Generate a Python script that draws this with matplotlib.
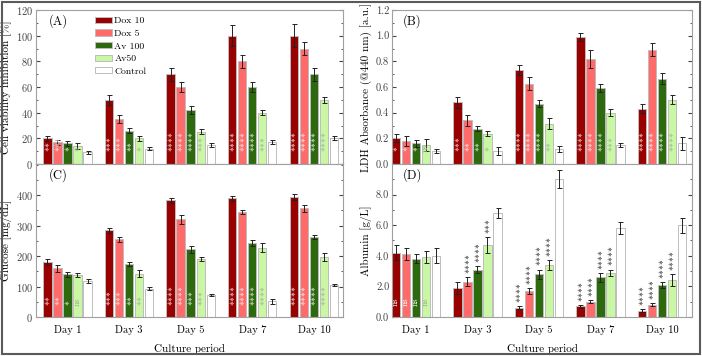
import numpy as np
import matplotlib
matplotlib.use('Agg')
import matplotlib.pyplot as plt
from matplotlib.patches import Rectangle
from matplotlib.ticker import AutoMinorLocator, FormatStrFormatter

plt.rcParams['font.family'] = ['cmr10', 'DejaVu Serif']
plt.rcParams['axes.formatter.use_mathtext'] = True
plt.rcParams['mathtext.fontset'] = 'cm'
plt.rcParams['axes.unicode_minus'] = False

days = ['Day 1', 'Day 3', 'Day 5', 'Day 7', 'Day 10']
groups = ['Dox 10', 'Dox 5', 'Av 100', 'Av50', 'Control']
colors = ['#990000', '#ff6b6b', '#2d6a0e', '#c9f7a4', '#ffffff']
star_colors = ['white', 'white', 'white', '#9aa894', '#999999']

# (A) cell viability inhibition [%], one row per group, one column per day
viab = [[20, 50, 70, 100, 100],
        [17, 35, 60, 80, 90],
        [16, 26, 42, 60, 70],
        [14, 20, 25, 40, 50],
        [9, 12, 15, 17, 20]]
viab_err = [[2, 4, 5, 8, 9],
            [2, 3, 4, 5, 5],
            [2, 2, 3, 4, 5],
            [2, 2, 2, 2, 2.5],
            [1.5, 1, 1.5, 1.5, 1.5]]
viab_sig = [['**', '***', '****', '****', '****'],
            ['***', '***', '****', '****', '****'],
            ['*', '**', '****', '****', '****'],
            ['*', '*', '***', '***', '****']]

# (B) LDH absorbance
ldh = [[0.20, 0.48, 0.73, 0.99, 0.43],
       [0.18, 0.34, 0.625, 0.815, 0.89],
       [0.16, 0.275, 0.47, 0.59, 0.665],
       [0.15, 0.235, 0.315, 0.40, 0.50],
       [0.10, 0.10, 0.115, 0.15, 0.16]]
ldh_err = [[0.03, 0.045, 0.04, 0.03, 0.035],
           [0.04, 0.04, 0.05, 0.07, 0.05],
           [0.025, 0.02, 0.025, 0.03, 0.045],
           [0.045, 0.02, 0.04, 0.025, 0.035],
           [0.015, 0.03, 0.025, 0.015, 0.05]]
ldh_sig = [['*', '***', '****', '****', '****'],
           ['*', '**', '****', '****', '****'],
           ['*', '**', '****', '****', '****'],
           ['ns', '*', '**', '***', '****']]

# (C) glucose [mg/dL]
gluc = [[180, 285, 383, 390, 393],
        [160, 255, 320, 345, 357],
        [140, 175, 222, 243, 263],
        [138, 142, 190, 227, 197],
        [118, 93, 72, 52, 105]]
gluc_err = [[10, 8, 8, 8, 10],
            [12, 8, 15, 7, 12],
            [8, 7, 12, 10, 7],
            [6, 12, 7, 15, 12],
            [6, 5, 3, 8, 3]]
gluc_sig = [['**', '***', '****', '****', '****'],
            ['**', '***', '****', '****', '****'],
            ['*', '**', '***', '****', '****'],
            ['ns', '**', '***', '****', '****']]

# (D) albumin [g/L]
alb = [[4.2, 1.9, 0.6, 0.7, 0.4],
       [4.1, 2.3, 1.7, 1.0, 0.8],
       [3.8, 3.1, 2.8, 2.6, 2.1],
       [3.9, 4.7, 3.4, 2.9, 2.4],
       [4.0, 6.8, 9.0, 5.8, 6.0]]
alb_err = [[0.5, 0.4, 0.1, 0.1, 0.1],
           [0.4, 0.3, 0.2, 0.1, 0.1],
           [0.3, 0.2, 0.3, 0.3, 0.2],
           [0.4, 0.5, 0.3, 0.2, 0.4],
           [0.5, 0.3, 0.6, 0.4, 0.5]]
alb_sig = [['ns', '', '****', '****', '****'],
           ['ns', '****', '****', '****', '****'],
           ['ns', '****', '****', '****', '****'],
           ['ns', '***', '****', '****', '****']]

STEP = 0.163
WIDTH = 0.135


def sig_label(txt):
    # braces keep mathtext from padding the stars like binary operators
    if txt == 'ns':
        return txt
    return '$' + r'{\ast}' * len(txt) + '$'


def style_axis(ax, xlim, ylim, yticks, fmt=None):
    ax.set_xlim(*xlim)
    ax.set_ylim(*ylim)
    ax.set_yticks(yticks)
    if fmt:
        ax.yaxis.set_major_formatter(FormatStrFormatter(fmt))
    ax.yaxis.set_minor_locator(AutoMinorLocator(2))
    ax.tick_params(axis='y', which='both', direction='in', right=True,
                   labelsize=7.5, colors='#444444', pad=2)
    ax.tick_params(axis='y', which='major', length=3)
    ax.tick_params(axis='y', which='minor', length=1.5)
    ax.tick_params(axis='x', length=0, labelsize=7.5, pad=6)
    for s in ax.spines.values():
        s.set_color('#a0a0a0')
        s.set_linewidth(0.8)
    ax.set_xticks(np.arange(len(days)))
    ax.set_xticklabels(days)


def draw_bars(ax, means, errs, sigs, stars_above=False, ymax=1.0):
    x = np.arange(len(days))
    handles = []
    for i, (m, e) in enumerate(zip(means, errs)):
        pos = x + (i - 2) * STEP
        b = ax.bar(pos, m, WIDTH, color=colors[i], edgecolor='#bdbdbd',
                   linewidth=0.7, label=groups[i], zorder=2)
        handles.append(b)
        ax.errorbar(pos, m, yerr=e, fmt='none', ecolor='#222222',
                    elinewidth=0.7, capsize=1.8, capthick=0.7, zorder=3)
        if i >= len(sigs):
            continue
        for j, txt in enumerate(sigs[i]):
            if not txt:
                continue
            if stars_above and txt != 'ns':
                ax.text(pos[j], m[j] + e[j] + 0.02 * ymax, sig_label(txt),
                        rotation=90, ha='center', va='bottom', fontsize=7,
                        color='#111111', zorder=4)
            else:
                ax.text(pos[j], 0.075 * ymax, sig_label(txt), rotation=90,
                        ha='center', va='bottom', fontsize=7 if txt != 'ns' else 6.5,
                        color=star_colors[i], zorder=4)
    return handles


fig = plt.figure(figsize=(7.02, 3.56), dpi=100)

ax_a = fig.add_axes([0.0513, 0.5393, 0.437, 0.4326])
ax_c = fig.add_axes([0.0513, 0.1096, 0.437, 0.4298])
ax_b = fig.add_axes([0.5584, 0.5393, 0.4274, 0.4326])
ax_d = fig.add_axes([0.5584, 0.1096, 0.4274, 0.4298])

left_lim = (-0.51, 4.47)
right_lim = (-0.39, 4.49)

handles = draw_bars(ax_a, viab, viab_err, viab_sig, ymax=120)
style_axis(ax_a, left_lim, (0, 120), np.arange(0, 121, 20))
ax_a.set_xticklabels([])
ax_a.set_ylabel('Cell viability inhibition [%]', fontsize=8, labelpad=3)
ax_a.text(0.04, 0.93, '(A)', transform=ax_a.transAxes, fontsize=9, va='center')
ax_a.legend(handles=handles, loc='upper left', bbox_to_anchor=(0.17, 1.0),
            frameon=False, fontsize=7, handlelength=1.75, handleheight=0.6,
            labelspacing=0.42, handletextpad=0.25, borderaxespad=0.3)

draw_bars(ax_c, gluc, gluc_err, gluc_sig, ymax=500)
style_axis(ax_c, left_lim, (0, 502), np.arange(0, 401, 100))
ax_c.set_ylabel('Glucose [mg/dL]', fontsize=8, labelpad=3)
ax_c.set_xlabel('Culture period', fontsize=8, labelpad=6)
ax_c.text(0.04, 0.93, '(C)', transform=ax_c.transAxes, fontsize=9, va='center')

draw_bars(ax_b, ldh, ldh_err, ldh_sig, ymax=1.2)
style_axis(ax_b, right_lim, (0, 1.2), np.arange(0, 1.21, 0.2), '%.1f')
ax_b.set_xticklabels([])
ax_b.set_ylabel('LDH Absorbance (@440 nm) [a.u.]', fontsize=8, labelpad=3)
ax_b.text(0.035, 0.93, '(B)', transform=ax_b.transAxes, fontsize=9, va='center')

draw_bars(ax_d, alb, alb_err, alb_sig, stars_above=True, ymax=10)
style_axis(ax_d, right_lim, (0, 10), np.arange(0, 8.1, 2), '%.1f')
ax_d.set_ylabel('Albumin [g/L]', fontsize=8, labelpad=3)
ax_d.set_xlabel('Culture period', fontsize=8, labelpad=6)
ax_d.text(0.035, 0.93, '(D)', transform=ax_d.transAxes, fontsize=9, va='center')

fig.patches.append(Rectangle((0.003, 0.007), 0.994, 0.987, transform=fig.transFigure,
                             fill=False, edgecolor='#5a5a5a', linewidth=1.5))

fig.savefig('out.png', dpi=100)
